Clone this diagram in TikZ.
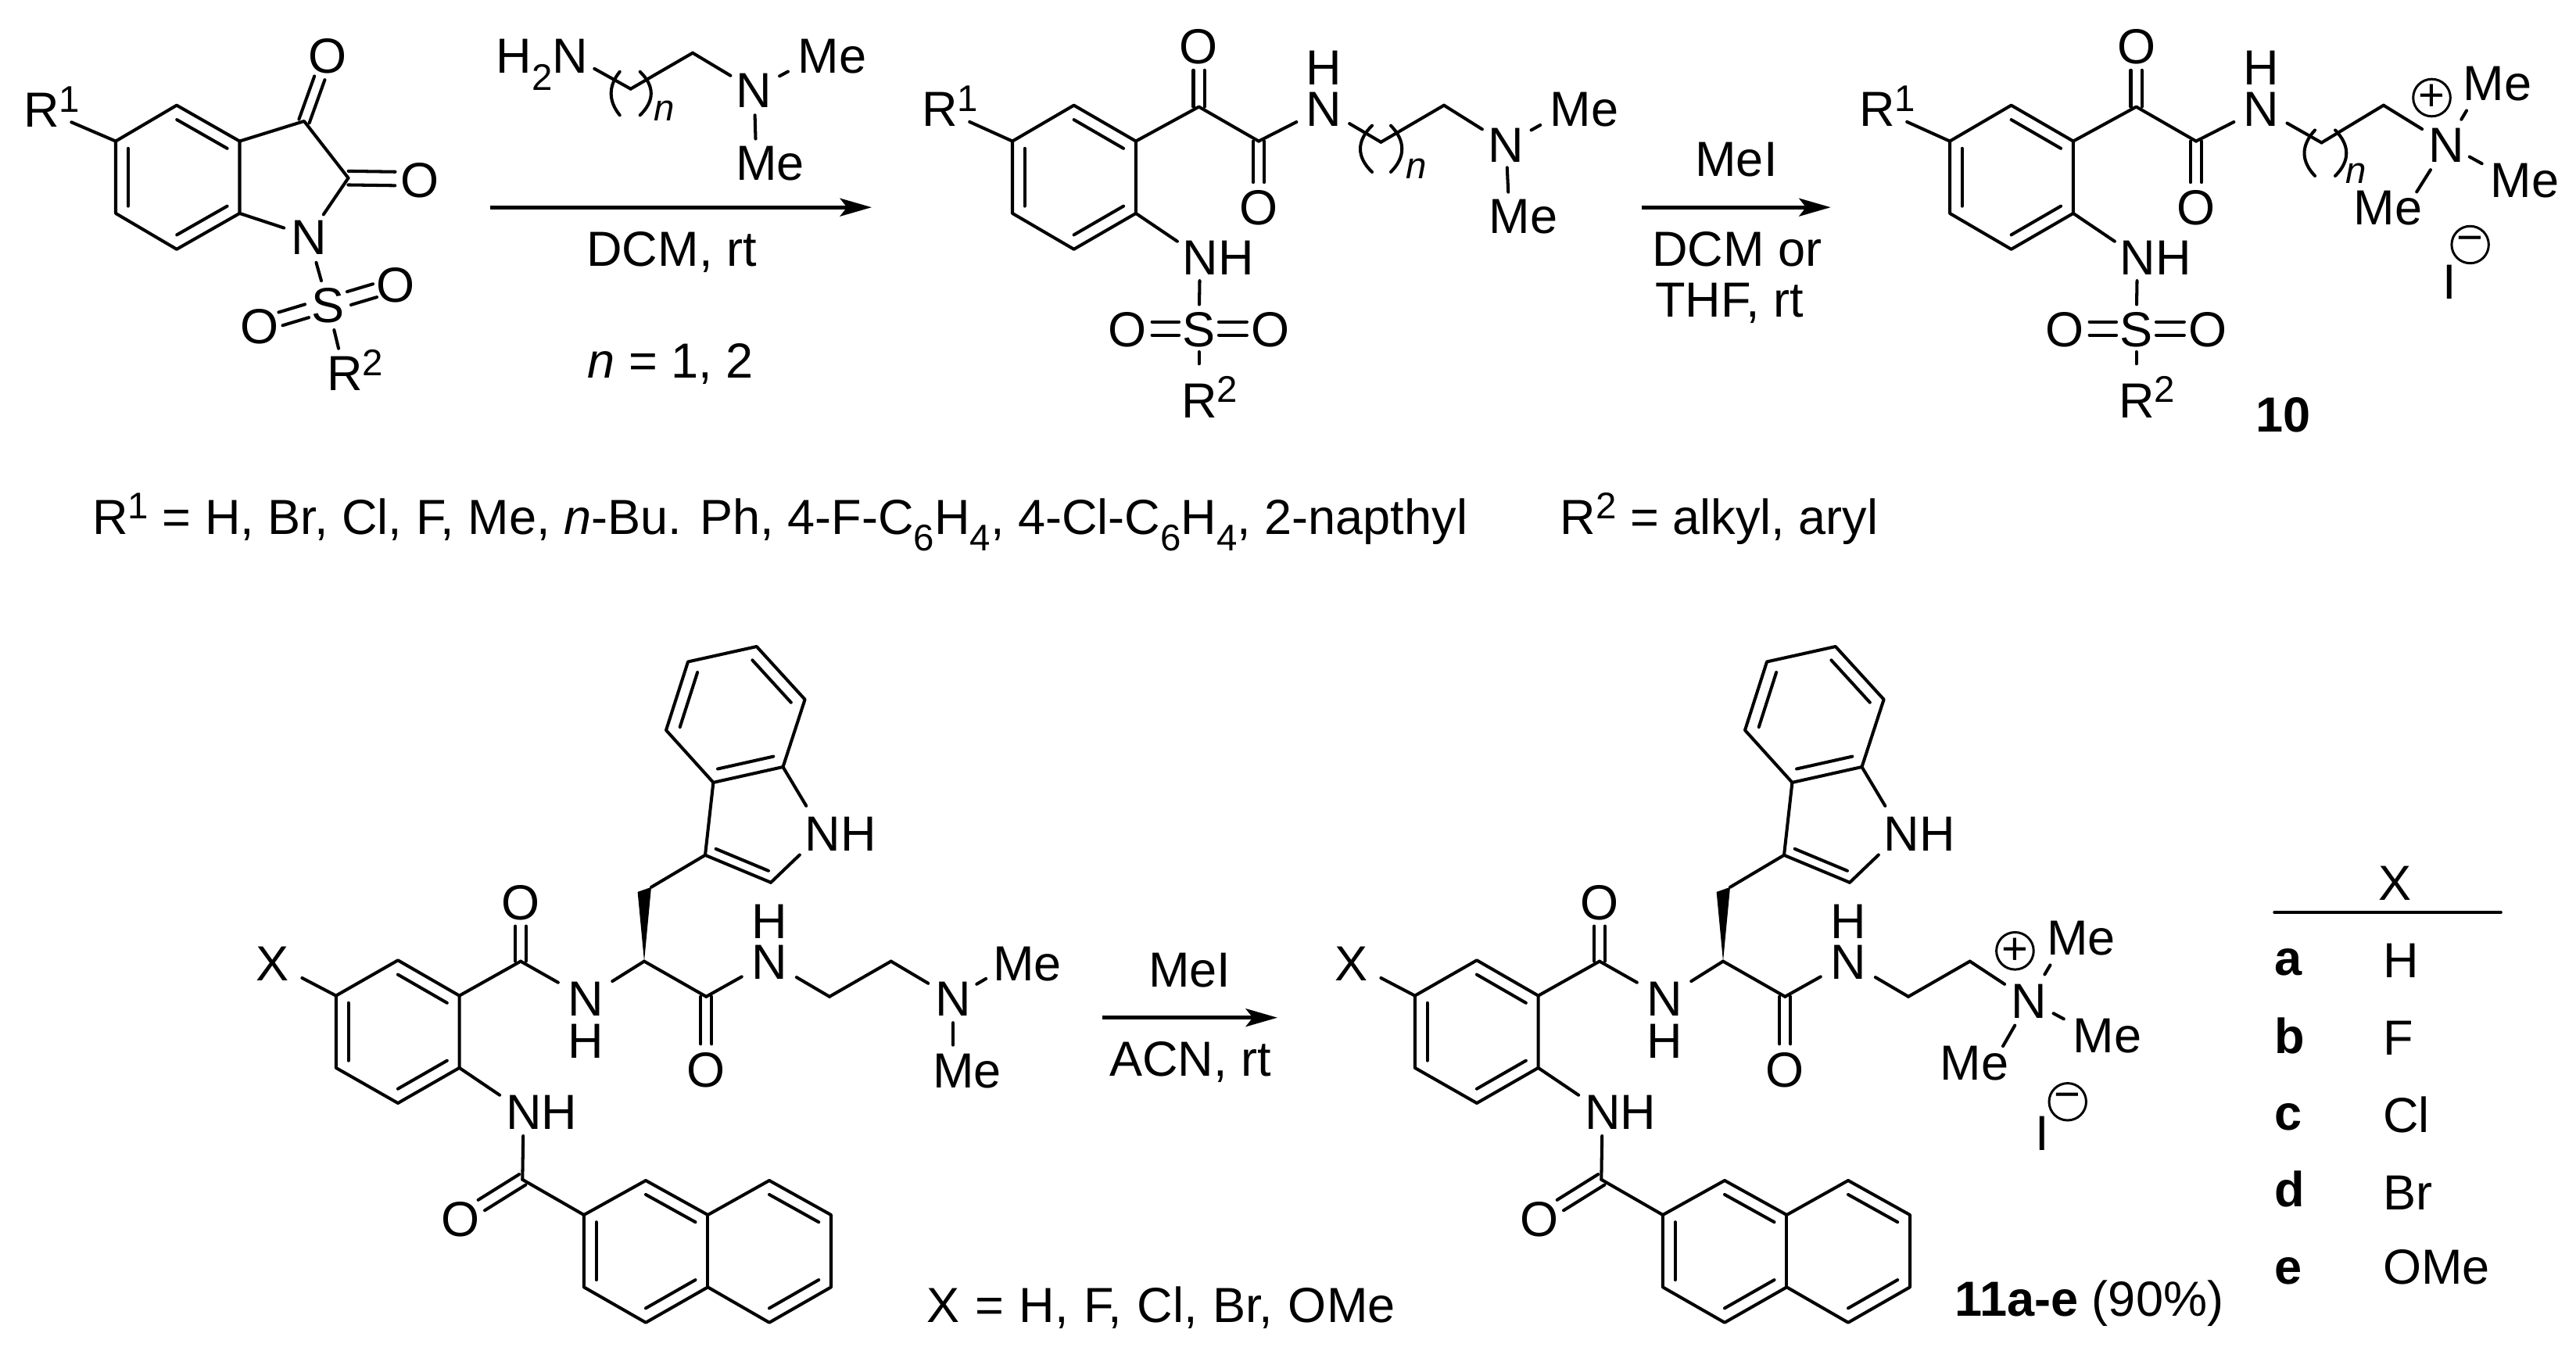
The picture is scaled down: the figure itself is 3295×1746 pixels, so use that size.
\documentclass[tikz,border=0pt]{standalone}
\usepackage{fontspec}
\setmainfont{Liberation Sans}
\usetikzlibrary{calc,arrows.meta}
\newcommand\Sb[1]{\raisebox{-12.5pt}{\fontsize{27}{27}\selectfont #1}}
\newcommand\Sp[1]{\raisebox{11pt}{\fontsize{27}{27}\selectfont #1}}
\newcommand\Lab[4]{\coordinate (#1) at (#3); \node[atom,anchor=west,xshift=-#2] (#1t) at (#1) {#4};}
\newcommand\Atm[3]{\coordinate (#1) at (#2); \node[atom] (#1t) at (#1) {#3};}
\newcommand\inr[3]{\draw[bond] ($(#1)!.2!(#3)$) -- ($(#2)!.2!(#3)$);}
\newcommand\dbl[4][]{\draw[bond,#1] ($(#2)!#4!90:(#3)$) -- ($(#3)!#4!-90:(#2)$);
  \draw[bond,#1] ($(#2)!#4!-90:(#3)$) -- ($(#3)!#4!90:(#2)$);}
\newcommand\toparyl{%
  \coordinate (b1) at (1373.6,134.7); \coordinate (b2) at (1452.9,180.6);
  \coordinate (b3) at (1452.9,272.9); \coordinate (b4) at (1373.6,318.8);
  \coordinate (b5) at (1295,272.9); \coordinate (b6) at (1295,180.6);
  \coordinate (bc) at (1373.6,226.8);
  \draw[bond] (b1)--(b2)--(b3)--(b4)--(b5)--(b6)--cycle;
  \inr{b1}{b2}{bc} \inr{b3}{b4}{bc} \inr{b5}{b6}{bc}
  \Lab{r1}{13pt}{1201.7,138.5}{R\Sp{1}}
  \draw[bond,ent=24pt] (b6)--(r1);
  \coordinate (c1) at (1533.5,136.6); \coordinate (c2) at (1610,180.6);
  \Atm{o1}{1533.5,58.2}{O} \Atm{o2}{1610,264.8}{O}
  \draw[bond] (b2)--(c1)--(c2);
  \dbl[ent=18pt]{c1}{o1}{4pt} \dbl[ent=18pt]{c2}{o2}{4pt}
  \Atm{nh}{1692.8,138.5}{N} \Atm{hh}{1692.8,85}{H}
  \draw[bond,ent=22pt] (c2)--(nh);
  \Lab{n3}{13pt}{1535,328.4}{NH}
  \draw[bond,ent=20pt] (b3)--(n3);
  \Atm{s}{1533.5,420.2}{S} \Atm{ol}{1442,420.2}{O} \Atm{or}{1624.7,420.2}{O}
  \draw[bond,stt=17.5pt,ent=17.5pt] (n3)--(s);
  \dbl[stt=14.5pt,ent=18pt]{s}{ol}{4.8pt} \dbl[stt=14.5pt,ent=17pt]{s}{or}{4.8pt}
  \Lab{r2}{13pt}{1533.5,511}{R\Sp{2}}
  \draw[bond,stt=17pt,ent=26pt] (s)--(r2);
}
\newcommand\lowermol{%
  \Atm{x}{349,1231.4}{X}
  \coordinate (d1) at (509,1228.3); \coordinate (d2) at (587.6,1273.6);
  \coordinate (d3) at (587.6,1365.9); \coordinate (d4) at (509,1411);
  \coordinate (d5) at (429.8,1365.9); \coordinate (d6) at (429.8,1273.6);
  \coordinate (dc) at (508.7,1319.7);
  \draw[bond] (d1)--(d2)--(d3)--(d4)--(d5)--(d6)--cycle;
  \inr{d1}{d2}{dc} \inr{d3}{d4}{dc} \inr{d5}{d6}{dc}
  \draw[bond,stt=24pt] (x)--(d6);
  \coordinate (e1) at (666,1229.6); \Atm{o1}{666,1153}{O}
  \draw[bond] (d2)--(e1); \dbl[ent=18pt]{e1}{o1}{3.9pt}
  \Atm{n1}{749,1276.6}{N} \Atm{h1}{749,1330.9}{H}
  \coordinate (e2) at (824,1229.6);
  \draw[bond,ent=23pt] (e1)--(n1); \draw[bond,stt=23pt] (n1)--(e2);
  \coordinate (wa) at (815.6,1140.9); \coordinate (wb) at (833,1134.8);
  \fill (e2)--(wa)--(wb)--cycle;
  \coordinate (g) at (902,1093.8); \coordinate (h) at (986,1128.8);
  \coordinate (j) at (1001.5,981); \coordinate (k) at (912.4,1000.9);
  \coordinate (l) at (1029.6,894.7); \coordinate (m) at (967.8,827);
  \coordinate (o) at (880,846.5); \coordinate (p) at (852,934);
  \coordinate (ic) at (940.6,914); \coordinate (pc) at (970.6,1054);
  \draw[bond] (wb)--(g)--(h); \draw[bond] (g)--(k);
  \draw[bond] (k)--(j)--(l)--(m)--(o)--(p)--cycle;
  \inr{g}{h}{pc} \inr{k}{j}{ic} \inr{l}{m}{ic} \inr{o}{p}{ic}
  \Lab{n2}{13pt}{1052,1065.5}{NH}
  \draw[bond,ent=23pt] (h)--(n2); \draw[bond,ent=23pt] (j)--(n2);
  \coordinate (e3) at (903.3,1274.8); \Atm{o3}{903.3,1367}{O}
  \draw[bond] (e2)--(e3); \dbl[ent=18pt]{e3}{o3}{4pt}
  \Atm{n3}{984,1229.6}{N} \Atm{h3}{984,1177}{H}
  \coordinate (e4) at (1061,1274.8); \coordinate (e5) at (1139.7,1229.6);
  \draw[bond,ent=23pt] (e3)--(n3); \draw[bond,stt=23pt] (n3)--(e4); \draw[bond] (e4)--(e5);
  \Lab{n4}{13pt}{669.7,1421.4}{NH}
  \draw[bond,ent=21pt] (d3)--(n4);
  \coordinate (q) at (668.3,1508.8); \Atm{o4}{589,1558.3}{O}
  \draw[bond,stt=18pt] (n4)--(q); \dbl[ent=18pt]{q}{o4}{4.5pt}
  \coordinate (r) at (746.9,1554); \coordinate (s) at (826,1510);
  \coordinate (t) at (905.4,1554); \coordinate (u) at (984,1510);
  \coordinate (v) at (1063,1554); \coordinate (w) at (1063,1646.4);
  \coordinate (xx) at (984,1691.7); \coordinate (y) at (905.4,1646.4);
  \coordinate (z) at (826,1691.7); \coordinate (aa) at (746.9,1646.4);
  \coordinate (lc) at (826,1600); \coordinate (rc) at (984,1600);
  \draw[bond] (q)--(r);
  \draw[bond] (r)--(s)--(t)--(u)--(v)--(w)--(xx)--(y)--(z)--(aa)--cycle;
  \draw[bond] (t)--(y);
  \inr{r}{aa}{lc} \inr{s}{t}{lc} \inr{y}{z}{lc} \inr{u}{v}{rc} \inr{w}{xx}{rc}
}
\tikzset{
  x=0.02cm,y=-0.02cm,
  bond/.style={line width=2.3pt,line cap=round,line join=round},
  stt/.style={shorten <=#1},
  ent/.style={shorten >=#1},
  atom/.style={inner sep=0pt,text height=26.2pt,text depth=0pt},
  lbl/.style={anchor=base,inner sep=0pt},
  lbll/.style={anchor=base west,inner sep=0pt},
  subn/.style={inner sep=0pt,font=\fontsize{27}{27}\selectfont\itshape},
  chg/.style={circle,draw,line width=1.7pt,minimum size=27pt,inner sep=0pt,font=\fontsize{33}{33}\selectfont},
  rxn/.style={line width=3pt,-{Stealth[length=23pt,width=13pt,inset=5pt]}},
  rule/.style={line width=2pt,line cap=round},
}
\begin{document}
\begin{tikzpicture}[every node/.append style={font=\fontsize{35.9}{40}\selectfont}]
\useasboundingbox (0,0) rectangle (3295,1746);
% ---- isatin
\coordinate (a1) at (226,134.7); \coordinate (a2) at (306.5,180.6);
\coordinate (a3) at (306.5,272.9); \coordinate (a4) at (226,318.8);
\coordinate (a5) at (148,272.9); \coordinate (a6) at (148,180.6);
\coordinate (ac) at (227,226.8);
\draw[bond] (a1)--(a2)--(a3)--(a4)--(a5)--(a6)--cycle;
\inr{a1}{a2}{ac} \inr{a3}{a4}{ac} \inr{a5}{a6}{ac}
\Lab{ar1}{13pt}{52.6,139.7}{R\Sp{1}}
\draw[bond,ent=24pt] (a6)--(ar1);
\coordinate (c3) at (389,155); \coordinate (c2) at (445.5,227.7);
\Atm{an}{395,302}{N} \Atm{ao3}{419.5,70}{O} \Atm{ao2}{537,229}{O}
\draw[bond] (a2)--(c3)--(c2);
\draw[bond,ent=19pt] (c2)--(an); \draw[bond,ent=19pt] (a3)--(an);
\dbl[ent=18pt]{c3}{ao3}{4pt} \dbl[ent=18pt]{c2}{ao2}{5pt}
\Atm{as}{419.5,389.6}{S} \Atm{aol}{332,416}{O} \Atm{aor}{506.5,363.6}{O}
\draw[bond,stt=20pt,ent=18pt] (an)--(as);
\dbl[stt=16pt,ent=16pt]{as}{aol}{5pt} \dbl[stt=16pt,ent=16pt]{as}{aor}{5pt}
\Lab{ar2}{13pt}{440.5,476.5}{R\Sp{2}}
\draw[bond,stt=19pt,ent=18pt] (as)--(ar2);
% ---- amine reagent
\coordinate (hn) at (729.6,70.8);
\node[atom,anchor=east,xshift=13pt] (hnt) at (hn) {H\Sb{2}N};
\coordinate (f1) at (806.7,113.7); \coordinate (f2) at (886,67.7);
\Atm{fn}{964.6,114.8}{N}
\Lab{fm1}{15pt}{1046.6,70.8}{Me} \Lab{fm2}{15pt}{967.4,207.4}{Me}
\draw[bond,stt=20pt] (hn)--(f1); \draw[bond] (f1)--(f2); \draw[bond,ent=20pt] (f2)--(fn);
\draw[bond,stt=21pt,ent=25pt] (fn)--(fm1);
\draw[bond,stt=18.5pt,ent=17pt] (fn)--(fm2);
\draw[bond] (792.7,91.8) .. controls (778,110) and (778,129) .. (792.7,147.3);
\draw[bond] (818.7,91.8) .. controls (837.5,110) and (837.5,129) .. (818.7,147.3);
\node[subn] (fnn) at (850,141.6) {n};
% ---- arrow 1
\coordinate (ra1) at (626.5,265.2); \coordinate (rb1) at (1115,265.2);
\draw[rxn] (ra1)--(rb1);
\node[lbl] (t1) at (859,340.6) {DCM, rt};
\node[lbl] (t2) at (858,484) {\textit{n} = 1, 2};
% ---- middle product
\begin{scope}[name prefix=m2-]
\toparyl
\coordinate (g1) at (1766.4,181.8); \coordinate (g2) at (1847,134.7);
\Atm{gn}{1926.4,184.5}{N}
\Lab{gm1}{15pt}{2008.5,138.5}{Me} \Lab{gm2}{15pt}{1930.6,275.5}{Me}
\draw[bond,stt=22pt] (nh)--(g1); \draw[bond] (g1)--(g2); \draw[bond,ent=20.5pt] (g2)--(gn);
\draw[bond,stt=21pt,ent=25pt] (gn)--(gm1);
\draw[bond,stt=17pt,ent=17pt] (gn)--(gm2);
\draw[bond] (1755,160.7) .. controls (1735,180) and (1735,201) .. (1755,220);
\draw[bond] (1779,160.7) .. controls (1798,180) and (1798,201) .. (1779,220);
\node[subn] (gnn) at (1812,216) {n};
\end{scope}
% ---- arrow 2
\coordinate (ra2) at (2099.6,265.2); \coordinate (rb2) at (2341.7,265.2);
\draw[rxn] (ra2)--(rb2);
\node[lbl] (t3) at (2221,225.8) {MeI};
\node[lbl] (t4) at (2221.8,340.6) {DCM or};
\node[lbl] (t5) at (2212,405.7) {THF, rt};
% ---- product 10
\begin{scope}[shift={(1199,0)},name prefix=m3-]
\toparyl
\end{scope}
\coordinate (k1) at (2969.5,182.5); \coordinate (k2) at (3048.8,134.7);
\Atm{kn}{3129.5,184.5}{N}
\Lab{km1}{15pt}{3176.5,105.2}{Me} \Lab{km2}{15pt}{3211.6,229.6}{Me}
\node[atom] (km3t) at (3054.4,264.8) {Me}; \coordinate (km3) at (3079,264.8);
\draw[bond,stt=22pt] (m3-nh)--(k1); \draw[bond] (k1)--(k2); \draw[bond,ent=21pt] (k2)--(kn);
\draw[bond,stt=21pt,ent=24pt] (kn)--(km1);
\draw[bond,stt=19pt,ent=24pt] (kn)--(km2);
\draw[bond,stt=22pt,ent=13pt] (kn)--(km3);
\draw[bond] (2961,166.5) .. controls (2943,186) and (2943,206) .. (2961,225);
\draw[bond] (2987,166.5) .. controls (3006,186) and (3006,206) .. (2987,225);
\node[subn] (knn) at (3013.8,222) {n};
\node[chg] (kp) at (3110.5,125) {+};
\Atm{ki}{3133.7,359}{I}
\node[chg] (km) at (3159.6,313) {−};
\node[lbl,font=\fontsize{35.9}{40}\selectfont\bfseries] (t10) at (2920.4,553) {10};
% ---- R line
\node[lbll] (t6) at (118,683) {R\Sp{1} = H, Br, Cl, F, Me, \textit{n}-Bu. Ph, 4-F-C\Sb{6}H\Sb{4}, 4-Cl-C\Sb{6}H\Sb{4}, 2-napthyl};
\node[lbll] (t7) at (1995.5,683) {R\Sp{2} = alkyl, aryl};
% ---- lower left
\begin{scope}[name prefix=p4-]
\lowermol
\Atm{zn}{1219,1276.6}{N}
\Lab{zm1}{15pt}{1296,1231.4}{Me} \Lab{zm2}{15pt}{1219,1368.3}{Me}
\draw[bond,ent=21pt] (e5)--(zn);
\draw[bond,stt=20pt,ent=23pt] (zn)--(zm1);
\draw[bond,stt=18pt,ent=18pt] (zn)--(zm2);
\end{scope}
\node[lbll] (t8) at (1185.3,1691.7) {\spaceskip=11.1pt X = H, F, Cl, Br, OMe};
% ---- arrow 3
\coordinate (ra3) at (1410,1301.7); \coordinate (rb3) at (1634,1301.7);
\draw[rxn] (ra3)--(rb3);
\node[lbl] (t9) at (1521.7,1262.3) {MeI};
\node[lbl] (t11) at (1522.5,1376.7) {ACN, rt};
% ---- lower right
\begin{scope}[shift={(1380,0)},name prefix=p5-]
\lowermol
\end{scope}
\Atm{yn}{2595.6,1279.6}{N}
\Lab{ym1}{15pt}{2644,1198.2}{Me} \Lab{ym2}{15pt}{2677.7,1323.7}{Me}
\node[atom] (ym3t) at (2525.5,1358) {Me}; \coordinate (ym3) at (2550.6,1358);
\draw[bond,ent=21.5pt] (p5-e5)--(yn);
\draw[bond,stt=22pt,ent=24pt] (yn)--(ym1);
\draw[bond,stt=20pt,ent=24.5pt] (yn)--(ym2);
\draw[bond,stt=21pt,ent=13pt] (yn)--(ym3);
\node[chg] (yp) at (2577.4,1216.3) {+};
\Atm{yi}{2611.8,1448.5}{I}
\node[chg] (ym) at (2644.7,1409.3) {−};
\node[lbll] (t12) at (2500.2,1683.8) {\textbf{11a-e} (90\%)};
% ---- table
\coordinate (tb1) at (2909,1167); \coordinate (tb2) at (3199,1167);
\draw[rule] (tb1)--(tb2);
\node[lbl] (tx) at (3063.6,1151.3) {X};
\node[lbll,font=\fontsize{35.9}{40}\selectfont\bfseries] (la) at (2909,1247.8) {a};
\node[lbll,font=\fontsize{35.9}{40}\selectfont\bfseries] (lb) at (2909,1347.6) {b};
\node[lbll,font=\fontsize{35.9}{40}\selectfont\bfseries] (lc) at (2909,1445) {c};
\node[lbll,font=\fontsize{35.9}{40}\selectfont\bfseries] (ld) at (2909,1543.8) {d};
\node[lbll,font=\fontsize{35.9}{40}\selectfont\bfseries] (le) at (2909,1642.7) {e};
\node[lbll] (va) at (3047.7,1250.7) {H};
\node[lbll] (vb) at (3047.7,1349.7) {F};
\node[lbll] (vc) at (3047.7,1448.6) {Cl};
\node[lbll] (vd) at (3047.7,1547) {Br};
\node[lbll] (ve) at (3047.7,1642.7) {OMe};
\end{tikzpicture}
\end{document}
